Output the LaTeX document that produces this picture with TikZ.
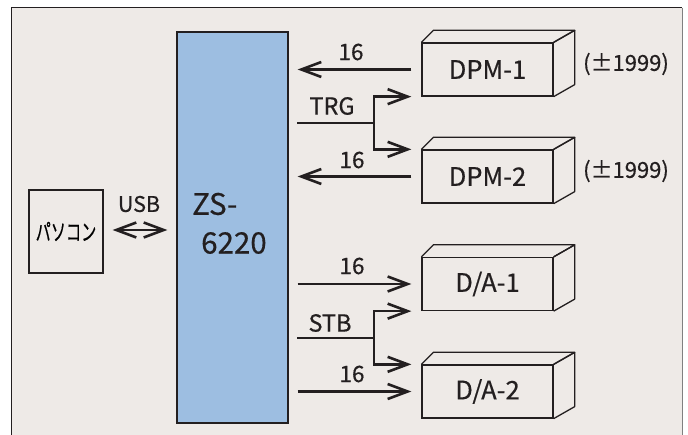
\documentclass[tikz,border=0pt]{standalone}
\usepackage{fontspec}
\setmainfont{Noto Sans CJK JP}[FakeBold=0.5]
\usetikzlibrary{arrows.meta,calc}
\definecolor{bg}{RGB}{238,234,231}
\definecolor{zsblue}{RGB}{157,190,225}
\definecolor{ink}{RGB}{35,31,32}
\begin{document}
\begin{tikzpicture}[x=1pt,y=-1pt,
  conn/.style={line width=2.6pt, draw=ink},
  arr/.style={conn,-{Straight Barb[length=20pt,width=15pt]}},
  dblarr/.style={conn,{Straight Barb[length=20pt,width=15pt]}-{Straight Barb[length=20pt,width=15pt]}},
  lbl/.style={text=ink, font=\fontsize{22.5}{22.5}\selectfont, inner sep=0pt},
  devbox/.style={draw=ink, line width=1.3pt, minimum width=131pt, minimum height=53pt, inner sep=0pt,
                 text=ink, font=\fontsize{25.5}{25.5}\selectfont},
  face/.style={draw=ink, line width=1.3pt, line join=round}]
\useasboundingbox (0,0) rectangle (688,435);
\fill[white] (0,0) rectangle (688,435);
\fill[bg] (11,8) rectangle (683,435);
\draw[ink, line width=1pt] (11,436) -- (11,8) -- (682,8);
\draw[gray, line width=1.2pt] (682.5,8) -- (682.5,436);

% ZS-6220
\node[draw=ink, fill=zsblue, line width=1.2pt, minimum width=111pt, minimum height=391pt, inner sep=0pt] (zs) at (232.5,227.5) {};
\node[lbl, anchor=west, font=\fontsize{29.5}{29.5}\selectfont] (zst1) at (192,204) {ZS-};
\node[lbl, anchor=west, font=\fontsize{29.5}{29.5}\selectfont] (zst2) at (201,243) {6220};

% PC
\node[draw=ink, line width=1.2pt, minimum width=74pt, minimum height=83pt, inner sep=0pt] (pc) at (66,231.5)
  {\scalebox{0.66}[1]{\fontsize{23}{23}\selectfont パソコン}};
\node[lbl, font=\fontsize{21.5}{21.5}\selectfont] (usb) at (139,204) {USB};
\draw[dblarr] ([xshift=9pt]pc.east |- 0,230) -- ([xshift=-9pt]zs.west |- 0,230);

% devices
\foreach \nm/\yc/\txt in {dpm1/69.5/{DPM-1}, dpm2/176.5/{DPM-2}, da1/284/{D/A-1}, da2/391.5/{D/A-2}}{
  \node[devbox] (\nm) at (487.5,\yc) {\txt};
  \draw[face] (\nm.north west) -- ++(12,-12) -- ($(\nm.north east)+(21,-12)$) -- (\nm.north east);
  \draw[face] (\nm.north east) -- ($(\nm.north east)+(21,-12)$) -- ($(\nm.south east)+(21,-12)$) -- (\nm.south east);
}

\node[lbl, font=\fontsize{22}{22}\selectfont] (r1) at (626,64) {(±1999)};
\node[lbl, font=\fontsize{22}{22}\selectfont] (r2) at (626,171) {(±1999)};

% DPM data arrows
\draw[arr] ([xshift=-10pt]dpm1.west) -- ([xshift=9pt]zs.east |- dpm1.west);
\draw[arr] ([xshift=-10pt]dpm2.west) -- ([xshift=9pt]zs.east |- dpm2.west);
\node[lbl] (n1) at (351,52) {16};
\node[lbl] (n2) at (352,160) {16};

% TRG
\coordinate (trgs) at (297,123);
\coordinate (trgb) at (374,123);
\draw[conn] (trgs) -- (trgb);
\draw[conn, line join=miter, {Straight Barb[length=20pt,width=15pt]}-{Straight Barb[length=20pt,width=15pt]}]
  ([xshift=-10pt]dpm1.south west) -- (trgb |- dpm1.south west) -- (trgb |- dpm2.north west) -- ([xshift=-10pt]dpm2.north west);
\node[lbl, font=\fontsize{23.5}{23.5}\selectfont] (trg) at (332,106) {TRG};

% D/A data arrows
\draw[arr] ([xshift=9pt]zs.east |- da1.west) -- ([xshift=-10pt]da1.west);
\draw[arr] ([xshift=9pt]zs.east |- da2.west) -- ([xshift=-10pt]da2.west);
\node[lbl] (n3) at (352,266) {16};
\node[lbl] (n4) at (352,374) {16};

% STB
\coordinate (stbs) at (297,338);
\coordinate (stbb) at (374,338);
\draw[conn] (stbs) -- (stbb);
\draw[conn, line join=miter, {Straight Barb[length=20pt,width=15pt]}-{Straight Barb[length=20pt,width=15pt]}]
  ([xshift=-10pt]da1.south west) -- (stbb |- da1.south west) -- (stbb |- da2.north west) -- ([xshift=-10pt]da2.north west);
\node[lbl, font=\fontsize{23.5}{23.5}\selectfont] (stb) at (330,323) {STB};
\end{tikzpicture}
\end{document}
